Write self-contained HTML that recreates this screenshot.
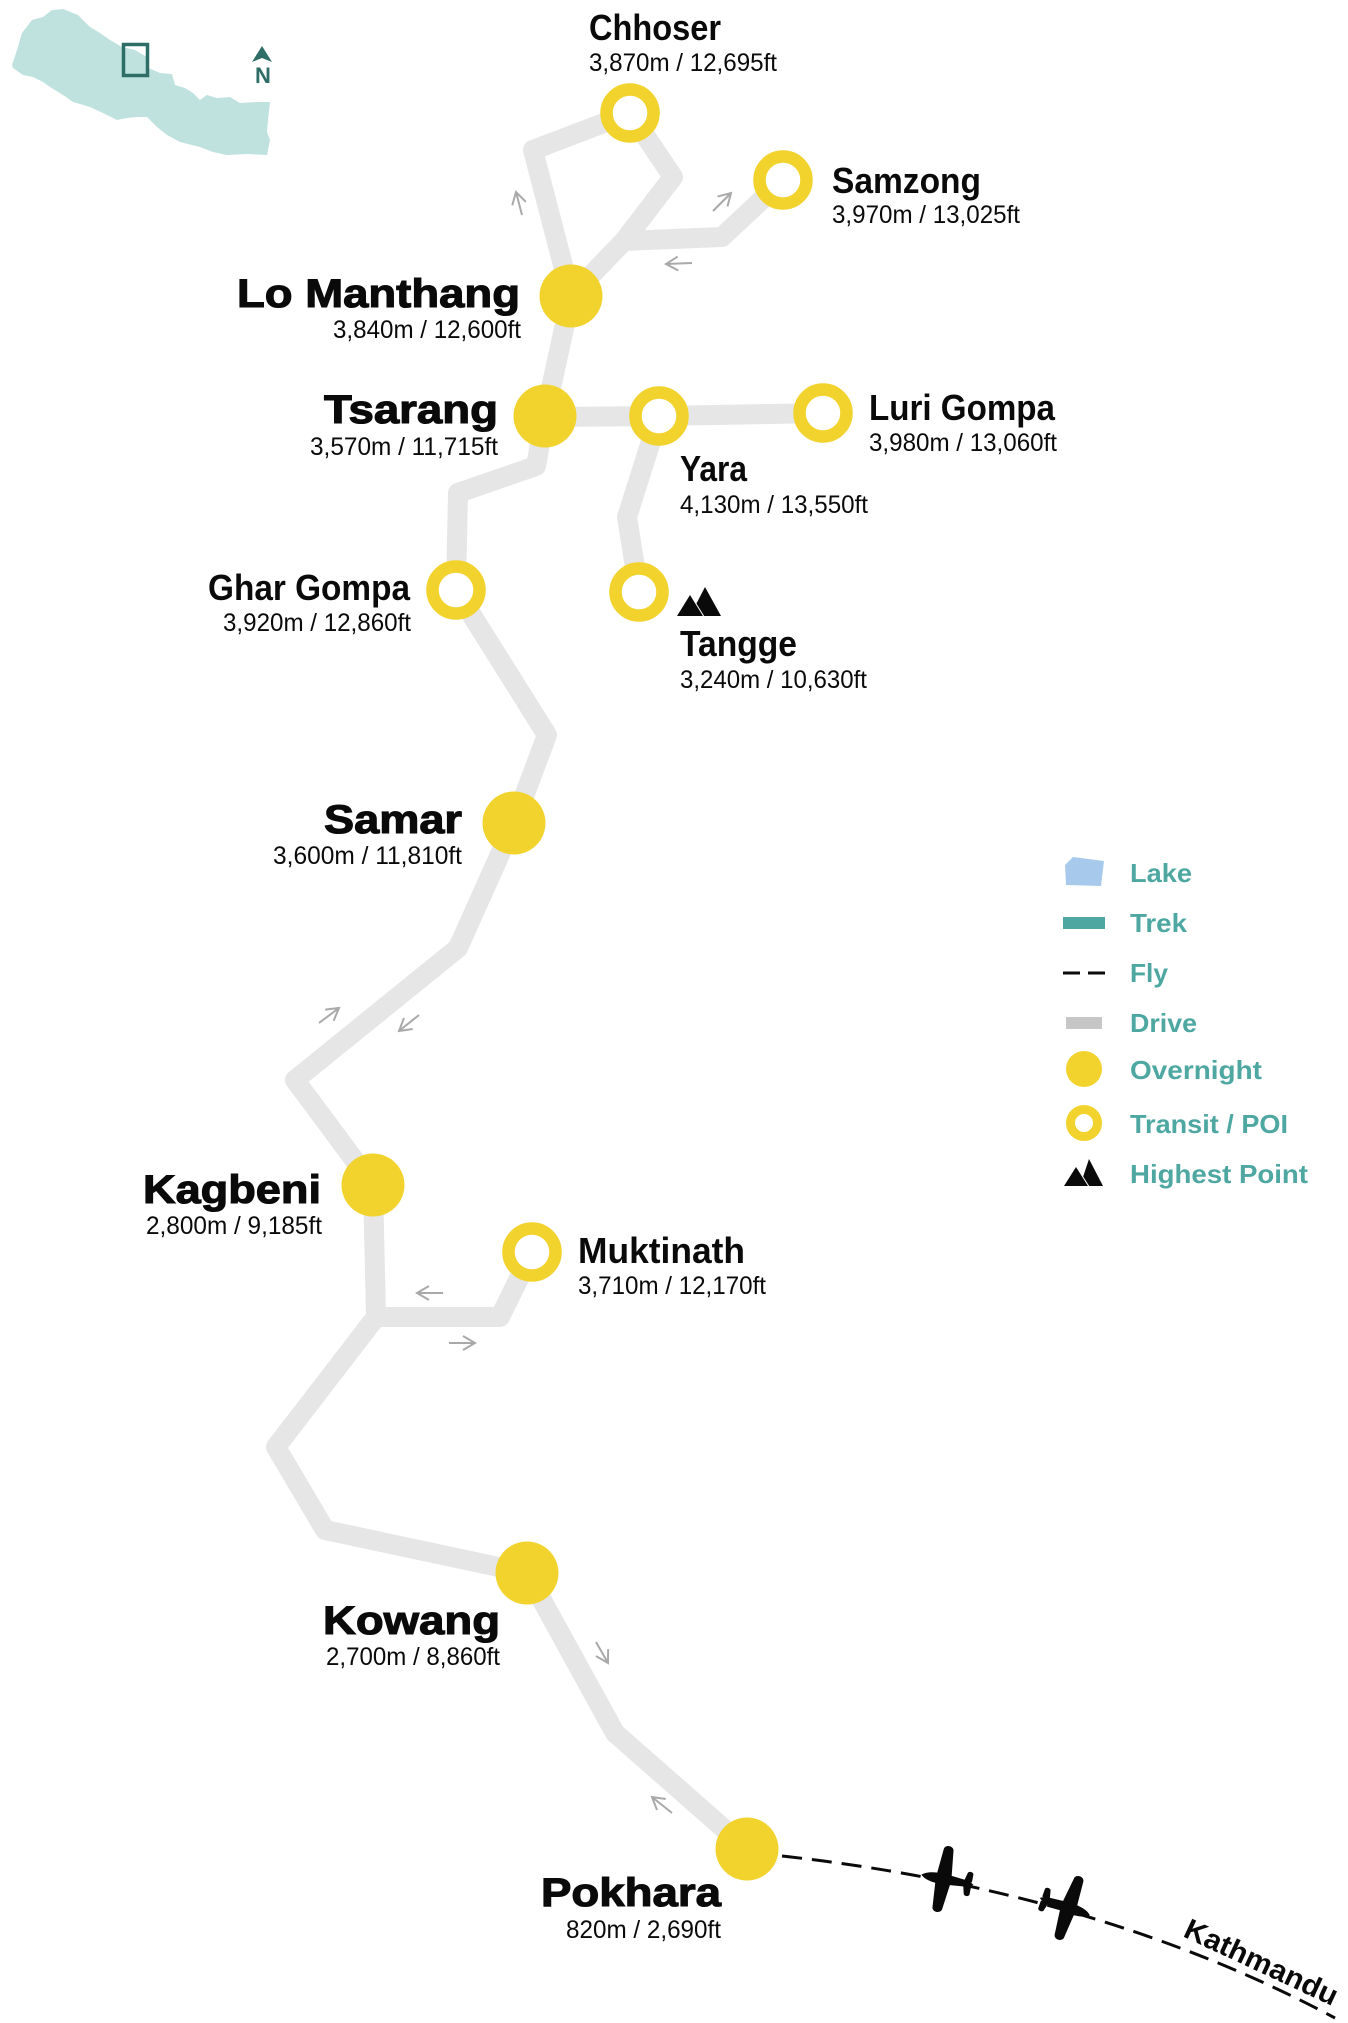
<!DOCTYPE html>
<html><head><meta charset="utf-8"><style>
html,body{margin:0;padding:0;background:#fff;}
svg{display:block;}
.h{font-family:"Liberation Sans",sans-serif;font-weight:bold;font-size:40px;fill:#0a0a0a;stroke:#0a0a0a;stroke-width:1.1px;}
.p{font-family:"Liberation Sans",sans-serif;font-weight:bold;font-size:36px;fill:#0a0a0a;}
.a{font-family:"Liberation Sans",sans-serif;font-size:25px;fill:#0a0a0a;}
.l{font-family:"Liberation Sans",sans-serif;font-weight:bold;font-size:26px;fill:#4ea7a1;}
.road{fill:none;stroke:#e5e6e5;stroke-width:20;stroke-linejoin:round;stroke-linecap:round;}
.arr{fill:none;stroke:#a9a9a9;stroke-width:2;}
</style></head><body>
<svg width="1348" height="2023" viewBox="0 0 1348 2023" xmlns="http://www.w3.org/2000/svg">
<defs>
<marker id="ah" viewBox="-14 -9 16 18" refX="0" refY="0" markerWidth="16" markerHeight="18" orient="auto" markerUnits="userSpaceOnUse">
<path d="M-12,-7 L0,0 L-12,7" fill="none" stroke="#a9a9a9" stroke-width="2"/>
</marker>
<g id="plane" fill="#0a0a0a">
<path d="M22,0 C18,-4 10,-5.5 0,-5.5 L-26,-3 L-31,0 L-26,3 L0,5.5 C10,5.5 18,4 22,0 Z"/>
<path d="M7,-4 L5,-29 C5,-35 -5,-35 -5,-29 L-8,-4 Z"/>
<path d="M7,4 L5,29 C5,35 -5,35 -5,29 L-8,4 Z"/>
<path d="M-21,-2 L-23,-10 C-23,-13 -29,-13 -29,-10 L-29,-2 Z"/>
<path d="M-21,2 L-23,10 C-23,13 -29,13 -29,10 L-29,2 Z"/>
</g>
</defs>

<!-- Nepal inset -->
<polygon fill="#bfe2df" points="12,65 17,50 22,33 32,20 43,17 52,10 63,9 78,15 90,27 100,33 110,40 122,47 135,50 147,57 148,68 160,73 172,74 175,85 185,88 193,93 200,100 207,95 217,98 230,97 240,103 257,102 270,102 268,120 267,132 270,140 267,155 247,154 227,155 213,152 200,147 180,142 167,135 157,127 147,117 137,117 127,118 117,120 103,113 90,107 73,102 63,95 50,87 43,82 33,77 23,75 13,68"/>
<rect x="123.5" y="44.5" width="24" height="31" fill="none" stroke="#2e6e67" stroke-width="3.5"/>
<polygon points="262,46 272,62 262,58 252,62" fill="#2e6e67"/>
<text x="263" y="83" text-anchor="middle" style="font-family:'Liberation Sans',sans-serif;font-weight:bold;font-size:22px;fill:#2e6e67;">N</text>

<!-- Roads -->
<polyline class="road" points="747,1849 615,1733 527,1573 325,1530 276,1447 376,1317 373,1185 295,1080 458,948 514,823 547,735 456,590 458,493 536,466 545,416 571,296 533,150 630,113"/>
<polyline class="road" points="571,296 624,241 673,177 630,113"/>
<polyline class="road" points="624,241 722,237 783,180"/>
<polyline class="road" points="545,417 659,416 823,413"/>
<polyline class="road" points="659,416 627,517 639,592"/>
<polyline class="road" points="376,1317 500,1317 532,1252"/>

<!-- Direction arrows -->
<line class="arr" x1="522" y1="215" x2="516" y2="192" marker-end="url(#ah)"/>
<line class="arr" x1="713" y1="211" x2="731" y2="193" marker-end="url(#ah)"/>
<line class="arr" x1="692" y1="263" x2="666" y2="264" marker-end="url(#ah)"/>
<line class="arr" x1="319" y1="1023" x2="339" y2="1008" marker-end="url(#ah)"/>
<line class="arr" x1="419" y1="1015" x2="399" y2="1031" marker-end="url(#ah)"/>
<line class="arr" x1="443" y1="1293" x2="417" y2="1293" marker-end="url(#ah)"/>
<line class="arr" x1="449" y1="1343" x2="475" y2="1343" marker-end="url(#ah)"/>
<line class="arr" x1="596" y1="1642" x2="608" y2="1663" marker-end="url(#ah)"/>
<line class="arr" x1="672" y1="1813" x2="652" y2="1797" marker-end="url(#ah)"/>

<!-- Flight path -->
<path d="M782,1856 Q1000,1880 1180,1948 Q1260,1978 1335,2018" fill="none" stroke="#0a0a0a" stroke-width="3" stroke-dasharray="20 10"/>
<use href="#plane" transform="translate(943,1879) rotate(191)"/>
<use href="#plane" transform="translate(1069,1908) rotate(19)"/>
<text class="p" x="0" y="0" transform="translate(1182,1936) rotate(25)" style="font-size:29px;" textLength="166" lengthAdjust="spacingAndGlyphs">Kathmandu</text>

<!-- Overnight stops -->
<g fill="#f2d32d">
<circle cx="571" cy="296" r="31.5"/>
<circle cx="545" cy="416" r="31.5"/>
<circle cx="514" cy="823" r="31.5"/>
<circle cx="373" cy="1185" r="31.5"/>
<circle cx="527" cy="1573" r="31.5"/>
<circle cx="747" cy="1849" r="31.5"/>
</g>
<!-- Transit / POI -->
<g fill="#fff" stroke="#f2d32d" stroke-width="12.5">
<circle cx="630" cy="113" r="23.5"/>
<circle cx="783" cy="180" r="23.5"/>
<circle cx="659" cy="416" r="23.5"/>
<circle cx="823" cy="413" r="23.5"/>
<circle cx="639" cy="592" r="23.5"/>
<circle cx="456" cy="590" r="23.5"/>
<circle cx="532" cy="1252" r="23.5"/>
</g>

<!-- Mountain icon Tangge -->
<polygon points="690,616 705,587 721,616" fill="#0a0a0a"/>
<polygon points="677,616 690,595 703,616" fill="#0a0a0a" stroke="#fff" stroke-width="2" paint-order="stroke"/>

<!-- Labels -->
<text class="h" x="237" y="307" textLength="283" lengthAdjust="spacingAndGlyphs">Lo Manthang</text>
<text class="a" x="333" y="338" textLength="188" lengthAdjust="spacingAndGlyphs">3,840m / 12,600ft</text>
<text class="h" x="324" y="423" textLength="174" lengthAdjust="spacingAndGlyphs">Tsarang</text>
<text class="a" x="310" y="455" textLength="188" lengthAdjust="spacingAndGlyphs">3,570m / 11,715ft</text>
<text class="h" x="324" y="833" textLength="138" lengthAdjust="spacingAndGlyphs">Samar</text>
<text class="a" x="273" y="864" textLength="189" lengthAdjust="spacingAndGlyphs">3,600m / 11,810ft</text>
<text class="h" x="143" y="1203" textLength="178" lengthAdjust="spacingAndGlyphs">Kagbeni</text>
<text class="a" x="146" y="1234" textLength="176" lengthAdjust="spacingAndGlyphs">2,800m / 9,185ft</text>
<text class="h" x="323" y="1634" textLength="177" lengthAdjust="spacingAndGlyphs">Kowang</text>
<text class="a" x="326" y="1665" textLength="174" lengthAdjust="spacingAndGlyphs">2,700m / 8,860ft</text>
<text class="h" x="541" y="1906" textLength="180" lengthAdjust="spacingAndGlyphs">Pokhara</text>
<text class="a" x="566" y="1938" textLength="155" lengthAdjust="spacingAndGlyphs">820m / 2,690ft</text>

<text class="p" x="589" y="40" textLength="132" lengthAdjust="spacingAndGlyphs">Chhoser</text>
<text class="a" x="589" y="71" textLength="188" lengthAdjust="spacingAndGlyphs">3,870m / 12,695ft</text>
<text class="p" x="832" y="193" textLength="149" lengthAdjust="spacingAndGlyphs">Samzong</text>
<text class="a" x="832" y="223" textLength="188" lengthAdjust="spacingAndGlyphs">3,970m / 13,025ft</text>
<text class="p" x="869" y="420" textLength="186" lengthAdjust="spacingAndGlyphs">Luri Gompa</text>
<text class="a" x="869" y="451" textLength="188" lengthAdjust="spacingAndGlyphs">3,980m / 13,060ft</text>
<text class="p" x="680" y="481" textLength="67" lengthAdjust="spacingAndGlyphs">Yara</text>
<text class="a" x="680" y="513" textLength="188" lengthAdjust="spacingAndGlyphs">4,130m / 13,550ft</text>
<text class="p" x="680" y="656" textLength="117" lengthAdjust="spacingAndGlyphs">Tangge</text>
<text class="a" x="680" y="688" textLength="187" lengthAdjust="spacingAndGlyphs">3,240m / 10,630ft</text>
<text class="p" x="208" y="600" textLength="202" lengthAdjust="spacingAndGlyphs">Ghar Gompa</text>
<text class="a" x="223" y="631" textLength="188" lengthAdjust="spacingAndGlyphs">3,920m / 12,860ft</text>
<text class="p" x="578" y="1263" textLength="167" lengthAdjust="spacingAndGlyphs">Muktinath</text>
<text class="a" x="578" y="1294" textLength="188" lengthAdjust="spacingAndGlyphs">3,710m / 12,170ft</text>

<!-- Legend -->
<polygon points="1065,865 1073,857 1104,861 1101,886 1066,885" fill="#a7caec"/>
<rect x="1063" y="917" width="42" height="12" fill="#4ea7a1"/>
<line x1="1063" y1="973" x2="1080" y2="973" stroke="#0a0a0a" stroke-width="3"/>
<line x1="1088" y1="973" x2="1105" y2="973" stroke="#0a0a0a" stroke-width="3"/>
<rect x="1066" y="1017" width="36" height="12" fill="#c6c6c6"/>
<circle cx="1084" cy="1069" r="18" fill="#f2d32d"/>
<circle cx="1084" cy="1123" r="13.5" fill="#fff" stroke="#f2d32d" stroke-width="9"/>
<polygon points="1080,1186 1089,1159 1103,1186" fill="#0a0a0a"/>
<polygon points="1064,1186 1076,1167 1088,1186" fill="#0a0a0a" stroke="#fff" stroke-width="2" paint-order="stroke"/>

<text class="l" x="1130" y="882" textLength="62" lengthAdjust="spacingAndGlyphs">Lake</text>
<text class="l" x="1130" y="932" textLength="57" lengthAdjust="spacingAndGlyphs">Trek</text>
<text class="l" x="1130" y="982" textLength="38" lengthAdjust="spacingAndGlyphs">Fly</text>
<text class="l" x="1130" y="1032" textLength="67" lengthAdjust="spacingAndGlyphs">Drive</text>
<text class="l" x="1130" y="1079" textLength="132" lengthAdjust="spacingAndGlyphs">Overnight</text>
<text class="l" x="1130" y="1133" textLength="158" lengthAdjust="spacingAndGlyphs">Transit / POI</text>
<text class="l" x="1130" y="1183" textLength="178" lengthAdjust="spacingAndGlyphs">Highest Point</text>
</svg>
</body></html>
